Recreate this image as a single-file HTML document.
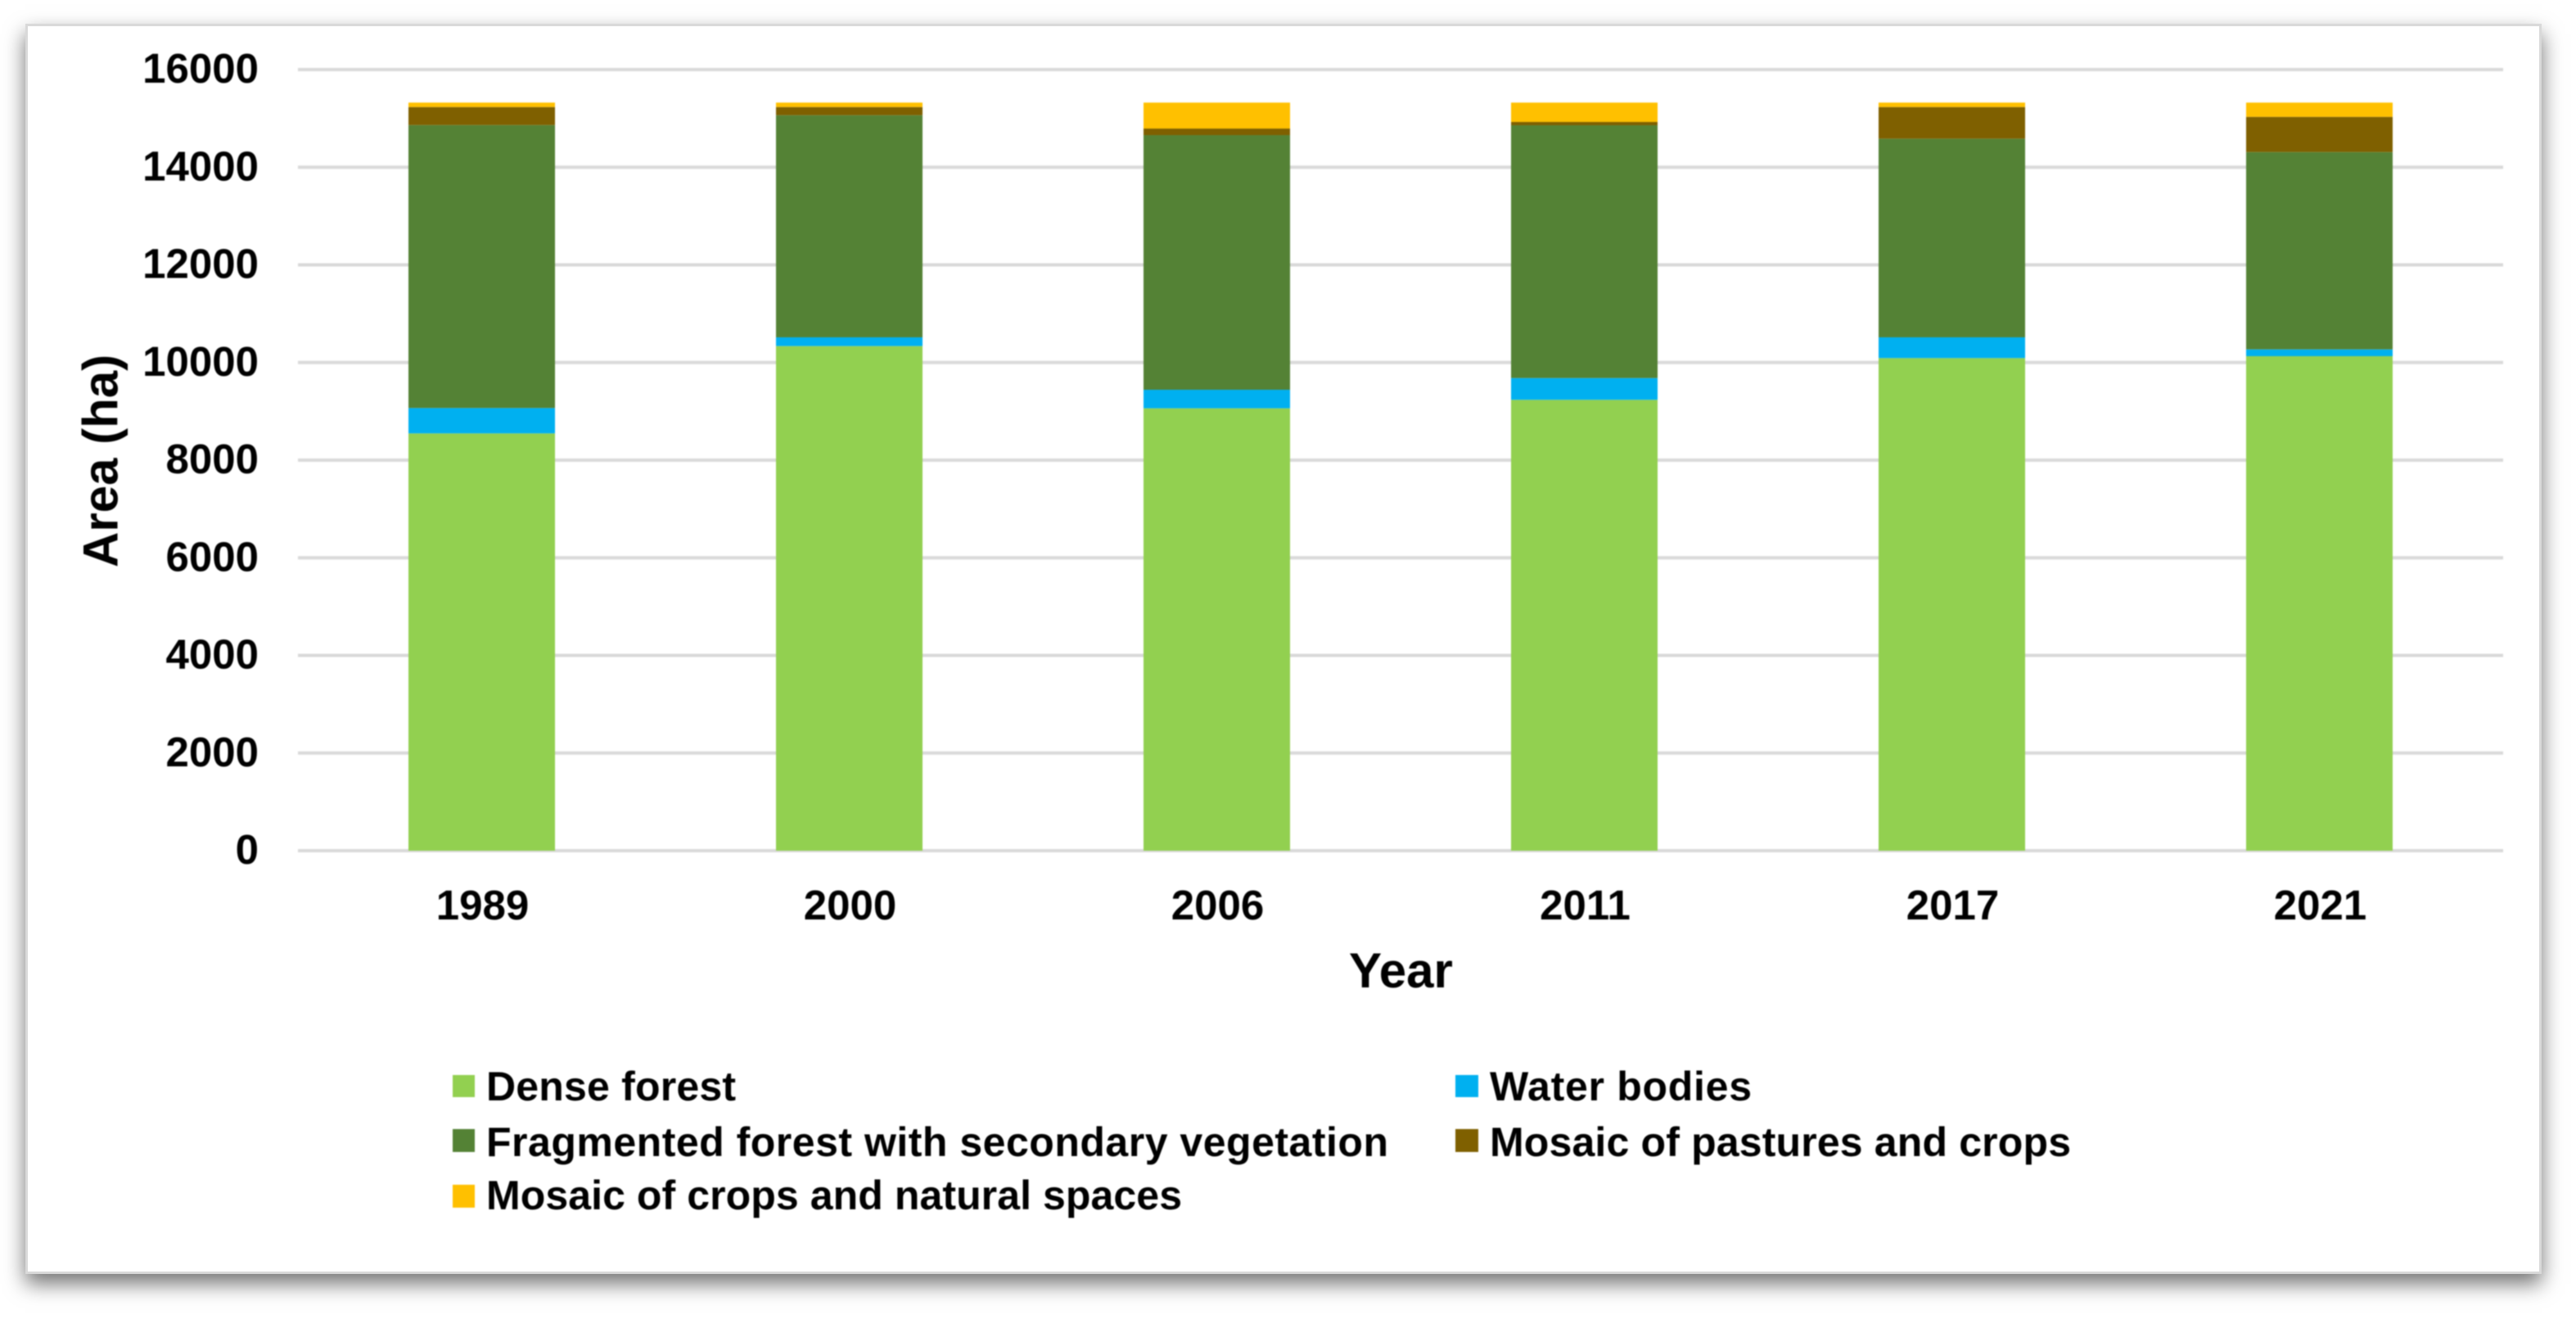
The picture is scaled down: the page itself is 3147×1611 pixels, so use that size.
<!DOCTYPE html>
<html lang="en">
<head>
<meta charset="utf-8">
<title>Land cover area by year</title>
<style>
  html, body { margin: 0; padding: 0; background: #fff; width: 3147px; height: 1611px; overflow: hidden; }
  #panel { position: absolute; left: 31px; top: 29px; width: 3074px; height: 1527px; box-sizing: border-box;
           background: #fff; border: 3px solid #d9d9d9; box-shadow: 0 12px 24px rgba(0,0,0,.55); }
  #chart { position: absolute; left: 0; top: 0; width: 3147px; height: 1611px; filter: blur(.7px); }
  text { font-family: "Liberation Sans", Arial, sans-serif; font-weight: 700; fill: #000; }
</style>
</head>
<body>
<div id="panel"></div>
<svg id="chart" xmlns="http://www.w3.org/2000/svg" width="3147" height="1611" viewBox="0 0 3147 1611">
  <g id="grid"></g>
  <g id="bars"></g>
  <g id="yticks"></g>
  <g id="xticks"></g>
  <text transform="translate(143.5 693) rotate(-90)" font-size="60">Area (ha)</text>
  <text x="1648" y="1206" font-size="60">Year</text>
  <g>
    <g>
      <rect x="553" y="1313" width="27" height="27" fill="#92D050"/>
      <text x="594" y="1344" font-size="50" textLength="305" lengthAdjust="spacing">Dense forest</text>
    </g>
    <g>
      <rect x="1778" y="1313" width="28" height="27" fill="#00B0F0"/>
      <text x="1820" y="1344" font-size="50" textLength="320" lengthAdjust="spacing">Water bodies</text>
    </g>
    <g>
      <rect x="553" y="1379" width="27" height="28" fill="#548235"/>
      <text x="594" y="1412" font-size="50" textLength="1102" lengthAdjust="spacing">Fragmented forest with secondary vegetation</text>
    </g>
    <g>
      <rect x="1778" y="1379" width="28" height="28" fill="#7F6000"/>
      <text x="1820" y="1412" font-size="50" textLength="710" lengthAdjust="spacing">Mosaic of pastures and crops</text>
    </g>
    <g>
      <rect x="553" y="1447" width="27" height="28" fill="#FFC000"/>
      <text x="594" y="1477" font-size="50" textLength="850" lengthAdjust="spacing">Mosaic of crops and natural spaces</text>
    </g>
  </g>
</svg>
<script>
const years = ['1989', '2000', '2006', '2011', '2017', '2021'];
const yTickValues = [0, 2000, 4000, 6000, 8000, 10000, 12000, 14000, 16000];
const denseForest = [8548, 10337, 9062, 9236, 10091, 10130];
const waterBodies = [520, 179, 380, 446, 425, 139];
const fragmentedForest = [5796, 4550, 5216, 5178, 4070, 4042];
const mosaicPasturesCrops = [369, 167, 134, 67, 647, 721];
const mosaicCropsNatural = [91, 91, 532, 397, 91, 292];

const seriesList = [
  { key: 'dense-forest', values: denseForest, color: '#92D050' },
  { key: 'water-bodies', values: waterBodies, color: '#00B0F0' },
  { key: 'fragmented-forest', values: fragmentedForest, color: '#548235' },
  { key: 'mosaic-pastures-crops', values: mosaicPasturesCrops, color: '#7F6000' },
  { key: 'mosaic-crops-natural', values: mosaicCropsNatural, color: '#FFC000' }
];

const plotLeft = 364, plotRight = 3058, plotTop = 85, plotBottom = 1039;
const yMax = 16000, barWidth = 179;
const NS = 'http://www.w3.org/2000/svg';

function yScale(v) { return plotBottom - (v / yMax) * (plotBottom - plotTop); }
function xCenter(i) { return plotLeft + (i + 0.5) * (plotRight - plotLeft) / years.length; }
function make(tag, attrs) {
  const node = document.createElementNS(NS, tag);
  for (const k in attrs) node.setAttribute(k, attrs[k]);
  return node;
}

const gridGroup = document.getElementById('grid');
const yTickGroup = document.getElementById('yticks');
yTickValues.forEach(function (v) {
  const line = make('line', { x1: plotLeft, x2: plotRight, y1: yScale(v), y2: yScale(v), stroke: '#d9d9d9', 'stroke-width': 4 });
  
  
  gridGroup.appendChild(line);

  const label = make('text', { x: 316, y: yScale(v) + 16, 'text-anchor': 'end', 'font-size': 51 });
  
  
  label.textContent = String(v);
  yTickGroup.appendChild(label);
});

const barGroup = document.getElementById('bars');
const xTickGroup = document.getElementById('xticks');
years.forEach(function (year, i) {
  let running = 0;
  seriesList.forEach(function (s) {
    const v = s.values[i];
    const top = yScale(running + v);
    const bottom = yScale(running);
    const rect = make('rect', { x: xCenter(i) - barWidth / 2, y: top, width: barWidth, height: bottom - top, fill: s.color });
    
    
    barGroup.appendChild(rect);
    running += v;
  });

  const label = make('text', { x: xCenter(i) + 1, y: 1123, 'text-anchor': 'middle', 'font-size': 51 });
  
  
  label.textContent = year;
  xTickGroup.appendChild(label);
});
</script>
</body>
</html>
